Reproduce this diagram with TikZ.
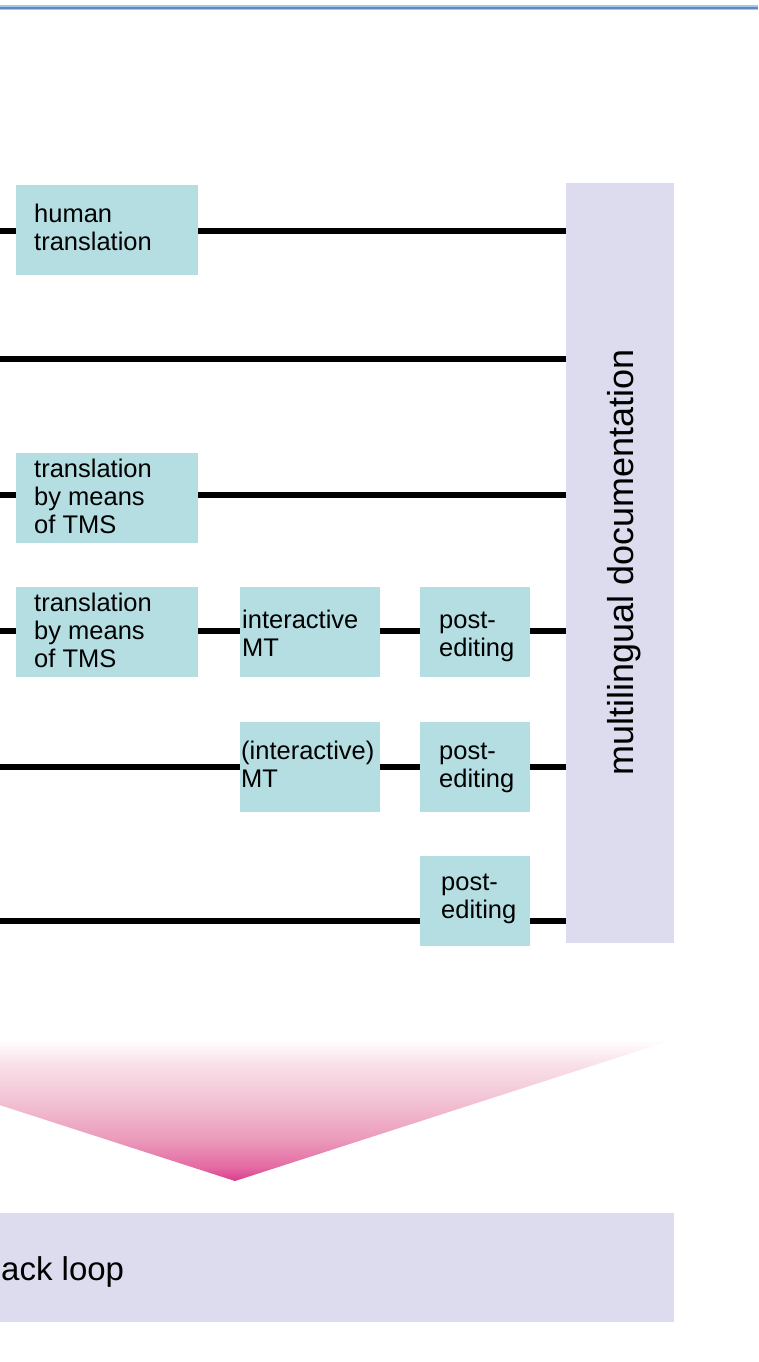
\documentclass[tikz,border=0pt]{standalone}
\usepackage{fontspec}
\setmainfont{Liberation Sans}
\definecolor{boxfill}{HTML}{B5DEE3}
\definecolor{docfill}{HTML}{DCDCEE}
\definecolor{bluedark}{HTML}{5B8AC5}
\definecolor{bluelight}{HTML}{A9C6E8}
\definecolor{magA}{HTML}{DC3C8C}
\definecolor{magB}{HTML}{E46BA3}
\definecolor{magC}{HTML}{EB9BBB}
\definecolor{magD}{HTML}{F2C1D3}
\definecolor{magE}{HTML}{F8DFE8}
\pgfdeclareverticalshading{funnelshade}{100bp}{%
  color(0bp)=(magA); color(25bp)=(magA); color(30bp)=(magB);
  color(40bp)=(magC); color(53bp)=(magD); color(66bp)=(magE);
  color(75bp)=(white); color(100bp)=(white)}
\begin{document}
\begin{tikzpicture}[x=1pt,y=-1pt,
  box/.style={fill=boxfill, draw=none, inner sep=0pt, anchor=north west},
  docbox/.style={fill=docfill, draw=none, inner sep=0pt, anchor=north west},
  lbl/.style={inner sep=0pt, anchor=base west, font=\fontsize{25.5}{28}\selectfont},
  biglbl/.style={inner sep=0pt, font=\fontsize{36}{40}\selectfont},
  conn/.style={line width=6.5pt, black}]
\useasboundingbox (0,0) rectangle (758,1362);
\clip (0,0) rectangle (758,1362);
% top rule
\fill[bluelight] (0,5.5) rectangle (758,10.5);
\fill[bluedark] (0,7) rectangle (758,9);
% documentation box
\node[docbox, minimum width=108pt, minimum height=760pt] (doc) at (566,183) {};
\node[biglbl, anchor=base, rotate=90] (doclbl) at (633,562) {multilingual documentation};
% row coordinates
\coordinate (r1) at (0,231);
\coordinate (r2) at (0,359);
\coordinate (r3) at (0,495);
\coordinate (r4) at (0,631);
\coordinate (r5) at (0,767);
\coordinate (r6) at (0,921);
% boxes
\node[box, minimum width=182pt, minimum height=90pt] (ht) at (16,185) {};
\node[box, minimum width=182pt, minimum height=90pt] (tms1) at (16,453) {};
\node[box, minimum width=182pt, minimum height=90pt] (tms2) at (16,587) {};
\node[box, minimum width=140pt, minimum height=90pt] (imt) at (240,587) {};
\node[box, minimum width=110pt, minimum height=90pt] (pe1) at (420,587) {};
\node[box, minimum width=140pt, minimum height=90pt] (imt2) at (240,722) {};
\node[box, minimum width=110pt, minimum height=90pt] (pe2) at (420,722) {};
\node[box, minimum width=110pt, minimum height=90pt] (pe3) at (420,856) {};
% labels
\node[lbl] (ht1) at (34,222) {human};
\node[lbl] (ht2) at (34,250) {translation};
\node[lbl] (ta1) at (34,477) {translation};
\node[lbl] (ta2) at (34,505) {by means};
\node[lbl] (ta3) at (34,533) {of TMS};
\node[lbl] (tb1) at (34,611) {translation};
\node[lbl] (tb2) at (34,639) {by means};
\node[lbl] (tb3) at (34,667) {of TMS};
\node[lbl] (im1) at (242,628) {interactive};
\node[lbl] (im2) at (242,656) {MT};
\node[lbl] (pa1) at (439,628) {post-};
\node[lbl] (pa2) at (439,656) {editing};
\node[lbl] (in1) at (241,759) {(interactive)};
\node[lbl] (in2) at (241,787) {MT};
\node[lbl] (pb1) at (439,759) {post-};
\node[lbl] (pb2) at (439,787) {editing};
\node[lbl] (pc1) at (441,890) {post-};
\node[lbl] (pc2) at (441,918) {editing};
% connectors
\draw[conn] (r1) -- (r1 -| ht.west);
\draw[conn] (r1 -| ht.east) -- (r1 -| doc.west);
\draw[conn] (r2) -- (r2 -| doc.west);
\draw[conn] (r3) -- (r3 -| tms1.west);
\draw[conn] (r3 -| tms1.east) -- (r3 -| doc.west);
\draw[conn] (r4) -- (r4 -| tms2.west);
\draw[conn] (r4 -| tms2.east) -- (r4 -| imt.west);
\draw[conn] (r4 -| imt.east) -- (r4 -| pe1.west);
\draw[conn] (r4 -| pe1.east) -- (r4 -| doc.west);
\draw[conn] (r5) -- (r5 -| imt2.west);
\draw[conn] (r5 -| imt2.east) -- (r5 -| pe2.west);
\draw[conn] (r5 -| pe2.east) -- (r5 -| doc.west);
\draw[conn] (r6) -- (r6 -| pe3.west);
\draw[conn] (r6 -| pe3.east) -- (r6 -| doc.west);
% funnel
\shade[shading=funnelshade] (-202,1040) -- (672,1040) -- (235,1181) -- cycle;
% bottom bar
\node[docbox, minimum width=674pt, minimum height=109pt] (bar) at (0,1213) {};
\node[biglbl, font=\fontsize{33}{38}\selectfont, anchor=base west] (barlbl) at (1,1280) {ack loop};
\end{tikzpicture}
\end{document}
